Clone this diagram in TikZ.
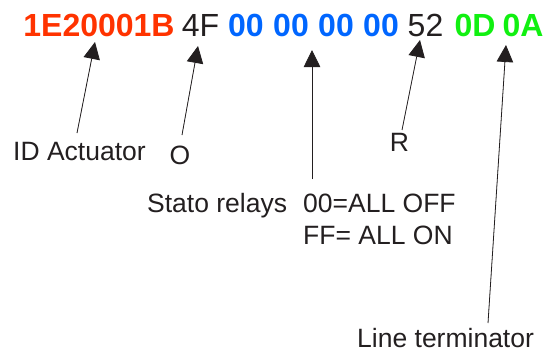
\documentclass[tikz,border=0pt]{standalone}
\usepackage{fontspec}
\setmainfont{Liberation Sans}
\usetikzlibrary{arrows.meta}
\definecolor{ink}{HTML}{231F20}
\definecolor{hexred}{HTML}{FF3300}
\definecolor{hexblue}{HTML}{0066FF}
\definecolor{hexgreen}{HTML}{11F011}
\begin{document}
\begin{tikzpicture}[x=1pt,y=-1pt,
  hexbig/.style={inner sep=0pt,anchor=base,font=\fontsize{32}{36}\selectfont},
  hexbold/.style={hexbig,font=\fontsize{32}{36}\selectfont\bfseries},
  lbl/.style={inner sep=0pt,text=ink,font=\fontsize{26.5}{32}\selectfont},
  ptr/.style={draw=ink,line width=0.8pt,-{Triangle[length=17pt,width=16.5pt]},fill=ink}]
\useasboundingbox (0,0) rectangle (545,353);
% top hex string
\node[hexbold,text=hexred] (id) at (99,37) {1E20001B};
\node[hexbig,text=ink] (o) at (200.5,37) {4F};
\node[hexbold,text=hexblue] (r1) at (246,37) {00};
\node[hexbold,text=hexblue] (r2) at (291,37) {00};
\node[hexbold,text=hexblue] (r3) at (336,37) {00};
\node[hexbold,text=hexblue] (r4) at (381,37) {00};
\node[hexbig,text=ink] (rr) at (425.5,37) {52};
\node[hexbold,text=hexgreen] (cr) at (475,37) {0D};
\node[hexbold,text=hexgreen] (lf) at (523,37) {0A};
% labels
\node[lbl,anchor=base west] (lid) at (13,160) {ID Actuator};
\node[lbl,anchor=base] (lo) at (180,164) {O};
\node[lbl,anchor=base] (lr) at (399.5,151) {R};
\node[lbl,anchor=base west] (lstato) at (147,212) {Stato relays};
\node[lbl,anchor=base west] (loff) at (303,212) {00=ALL OFF};
\node[lbl,anchor=base west] (lon) at (303,244) {FF= ALL ON};
\node[lbl,anchor=base west] (lterm) at (357,347) {Line terminator};
% pointer ends
\coordinate (tid) at (95,42);
\coordinate (eid) at (77,133);
\coordinate (to) at (198,46);
\coordinate (eo) at (182,135);
\coordinate (trel) at (312,50);
\coordinate (erel) at (312,179);
\coordinate (tr) at (420,40);
\coordinate (er) at (402,130);
\coordinate (tt) at (506,45);
\coordinate (et) at (488,323);
\draw[ptr] (eid) -- (tid);
\draw[ptr] (eo) -- (to);
\draw[ptr] (erel) -- (trel);
\draw[ptr] (er) -- (tr);
\draw[ptr] (et) -- (tt);
\end{tikzpicture}
\end{document}
